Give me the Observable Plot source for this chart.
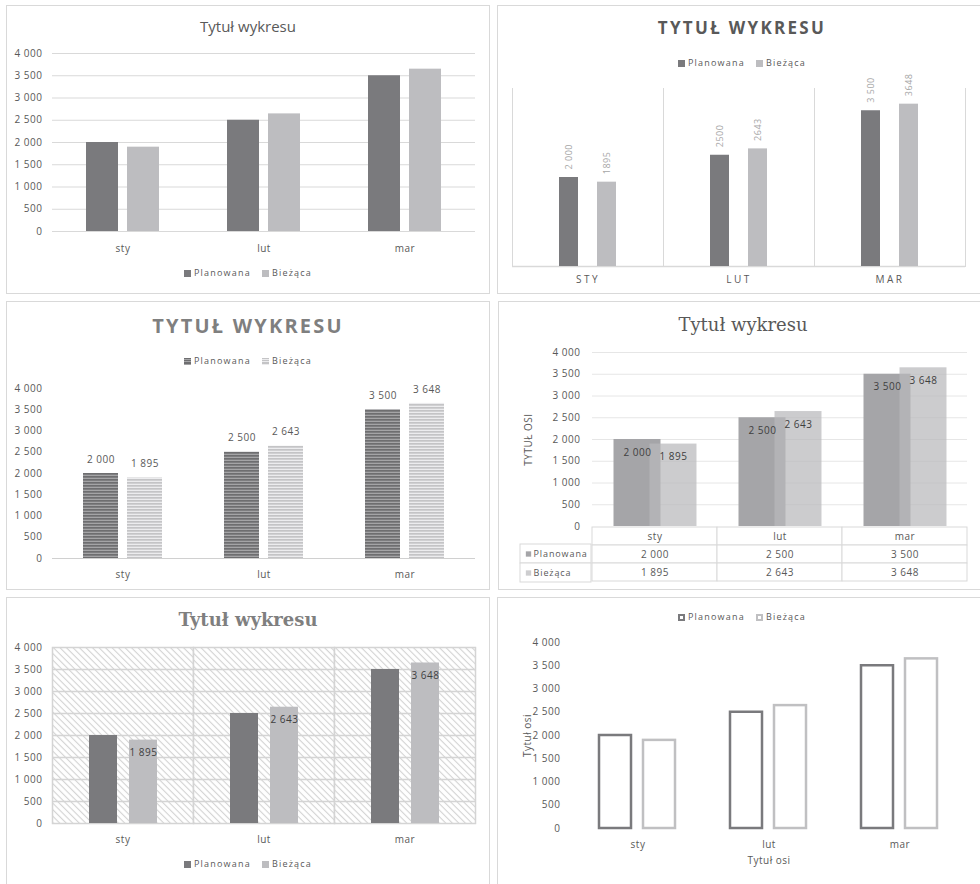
<!DOCTYPE html>
<html><head><meta charset="utf-8">
<script src="https://cdn.jsdelivr.net/npm/d3@7"></script>
<script src="https://cdn.jsdelivr.net/npm/@observablehq/plot@0.6"></script>
<style>
html,body{margin:0;padding:0;background:#fff;overflow:hidden;width:980px;height:884px}
body{position:relative;font-family:"Open Sans",sans-serif;color:#595959}
.panel{position:absolute;border:1px solid #d9d9d9;box-sizing:border-box;background:#fff;overflow:hidden}
.panel svg{position:absolute;left:0;top:0;overflow:visible}
.t{position:absolute;left:0;right:0;text-align:center;white-space:nowrap}
.lg{position:absolute;left:0;right:0;display:flex;justify-content:center;align-items:center;font-size:9px;letter-spacing:1.2px;color:#595959;gap:11px;line-height:12px}
.lg .i{display:flex;align-items:center;gap:3px}
.sw{display:inline-block;width:7px;height:7px;box-sizing:border-box}
#p2 [aria-label^="fx-axis"] text{letter-spacing:2.5px}
</style></head>
<body>
<svg width="0" height="0" style="position:absolute">
<defs>
<pattern id="stripeDark" width="6" height="3" patternUnits="userSpaceOnUse">
<rect width="6" height="3" fill="#a4a4a6"/><rect width="6" height="1.7" fill="#6e6e70"/>
</pattern>
<pattern id="stripeLight" width="6" height="3" patternUnits="userSpaceOnUse">
<rect width="6" height="3" fill="#ececee"/><rect width="6" height="1.7" fill="#c4c4c6"/>
</pattern>
<pattern id="hatch" width="4.6" height="4.6" patternUnits="userSpaceOnUse" patternTransform="rotate(-45)">
<rect width="4.6" height="4.6" fill="#ffffff"/><line x1="2.3" y1="0" x2="2.3" y2="4.6" stroke="#d2d2d2" stroke-width="1.1"/>
</pattern>
</defs>
</svg>
<div class="panel" id="p1" style="left:6px;top:5px;width:484px;height:289px"></div>
<div class="panel" id="p2" style="left:497px;top:5px;width:490px;height:289px"></div>
<div class="panel" id="p3" style="left:6px;top:301px;width:484px;height:289px"></div>
<div class="panel" id="p4" style="left:498px;top:301px;width:490px;height:289px"></div>
<div class="panel" id="p5" style="left:6px;top:597px;width:484px;height:290px"></div>
<div class="panel" id="p6" style="left:497px;top:597px;width:490px;height:290px"></div>
<script>
// ---- data ----
const months = ["sty", "lut", "mar"];
const monthsUpper = ["STY", "LUT", "MAR"];
const series = ["Planowana", "Bieżąca"];
const planowana = [2000, 2500, 3500];
const biezaca = [1895, 2643, 3648];
const yTicks = [0, 500, 1000, 1500, 2000, 2500, 3000, 3500, 4000];
const yDomain = [0, 4000];
const rotLabelsPlan = ["2 000", "2500", "3 500"];
const rotLabelsBiez = ["1895", "2643", "3648"];
const titleNormal = "Tytuł wykresu";
const titleUpper = "TYTUŁ WYKRESU";
const axisTitleUpper = "TYTUŁ OSI";
const axisTitle = "Tytuł osi";

// ---- helpers ----
const fmt = d => d3.format(",")(d).replace(/,/g, " ");
const data = months.flatMap((m, i) => [
  {month: m, series: series[0], value: planowana[i], rot: rotLabelsPlan[i]},
  {month: m, series: series[1], value: biezaca[i], rot: rotLabelsBiez[i]}
]);
const planData = data.filter(d => d.series === series[0]);
const biezData = data.filter(d => d.series === series[1]);

const DARK = "#7a7a7d", LIGHT = "#bdbdc0";
const SANS = '"Open Sans", sans-serif';
const baseStyle = {fontFamily: SANS, fontSize: "10px", color: "#595959", background: "transparent", overflow: "visible", letterSpacing: "0.5px"};

function addTitle(id, text, y, o) {
  const el = document.createElement("div");
  el.className = "t";
  el.textContent = text;
  const lh = o.size * 1.3;
  Object.assign(el.style, {top: (y - lh / 2) + "px", lineHeight: lh + "px", fontSize: o.size + "px",
    fontFamily: o.family || SANS, fontWeight: o.weight || "normal", color: o.color || "#595959",
    letterSpacing: (o.spacing || 0) + "px"});
  document.getElementById(id).appendChild(el);
}
function addLegend(id, y, swatches) {
  const el = document.createElement("div");
  el.className = "lg";
  el.style.top = (y - 6) + "px";
  series.forEach((s, i) => {
    const it = document.createElement("span"); it.className = "i";
    const sw = document.createElement("span"); sw.className = "sw";
    Object.assign(sw.style, swatches[i]);
    const tx = document.createElement("span"); tx.textContent = s;
    it.appendChild(sw); it.appendChild(tx); el.appendChild(it);
  });
  document.getElementById(id).appendChild(el);
}
function put(id, svg, left, top) {
  svg.style.left = (left || 0) + "px";
  svg.style.top = (top || 0) + "px";
  document.getElementById(id).appendChild(svg);
}

// ---- Panel 1 ----
addTitle("p1", titleNormal, 21, {size: 15});
put("p1", Plot.plot({
  width: 482, height: 287, marginLeft: 45, marginRight: 14, marginTop: 47, marginBottom: 62,
  style: baseStyle,
  fx: {domain: months, padding: 0, axis: "bottom", tickSize: 0, tickPadding: 13, label: null},
  x: {domain: series, axis: null, paddingInner: 9 / 41, paddingOuter: 0.829},
  y: {domain: yDomain, ticks: yTicks, tickFormat: fmt, tickSize: 0, tickPadding: 10, label: null},
  color: {domain: series, range: [DARK, LIGHT]},
  marks: [
    Plot.ruleY(yTicks, {stroke: "#d9d9d9"}),
    Plot.barY(data, {fx: "month", x: "series", y: "value", fill: "series"})
  ]
}));
addLegend("p1", 267, [{background: DARK}, {background: LIGHT}]);

// ---- Panel 2 ----
addTitle("p2", titleUpper, 22, {size: 17, weight: "bold", spacing: 2.3});
addLegend("p2", 57, [{background: DARK}, {background: LIGHT}]);
put("p2", Plot.plot({
  width: 482, height: 287, marginLeft: 13, marginRight: 14, marginTop: 82, marginBottom: 27,
  style: baseStyle,
  fx: {domain: months, padding: 0, axis: "bottom", tickSize: 0, tickPadding: 9, label: null,
       tickFormat: d => monthsUpper[months.indexOf(d)]},
  x: {domain: series, axis: null, paddingInner: 19 / 39, paddingOuter: 1.188},
  y: {domain: yDomain, axis: null},
  color: {domain: series, range: [DARK, LIGHT]},
  marks: [
    Plot.frame({anchor: "left", stroke: "#d9d9d9"}),
    Plot.frame({anchor: "right", stroke: "#d9d9d9"}),
    Plot.ruleY([0], {stroke: "#d9d9d9", strokeWidth: 1.5}),
    Plot.barY(data, {fx: "month", x: "series", y: "value", fill: "series"}),
    Plot.text(data, {fx: "month", x: "series", y: "value", text: "rot", rotate: -90, textAnchor: "start",
      dy: -8, fill: "#a6a6a6", fontSize: 9})
  ]
}));

// ---- Panel 3 ----
addTitle("p3", titleUpper, 24, {size: 20, weight: "bold", spacing: 2.2, color: "#7f7f7f"});
addLegend("p3", 59, [
  {background: "repeating-linear-gradient(#6e6e70 0 1.2px,#a4a4a6 1.2px 2.2px)"},
  {background: "repeating-linear-gradient(#c4c4c6 0 1.2px,#ececee 1.2px 2.2px)"}]);
put("p3", Plot.plot({
  width: 482, height: 287, marginLeft: 45, marginRight: 14, marginTop: 86, marginBottom: 31,
  style: baseStyle,
  fx: {domain: months, padding: 0, axis: "bottom", tickSize: 0, tickPadding: 12, label: null},
  x: {domain: series, axis: null, paddingInner: 0.2, paddingOuter: 0.667},
  y: {domain: yDomain, ticks: yTicks, tickFormat: fmt, tickSize: 0, tickPadding: 10, label: null},
  marks: [
    Plot.ruleY([0], {stroke: "#d0d0d0"}),
    Plot.barY(planData, {fx: "month", x: "series", y: "value", fill: "url(#stripeDark)"}),
    Plot.barY(biezData, {fx: "month", x: "series", y: "value", fill: "url(#stripeLight)"}),
    Plot.text(data, {fx: "month", x: "series", y: "value", text: d => fmt(d.value), dy: -14, fill: "#595959", fontSize: 10})
  ]
}));

// ---- Panel 4 ----
const P4DARK = "#a5a5a8", P4LIGHT = "#b9b9bb";
addTitle("p4", titleNormal, 23, {size: 18, family: '"DejaVu Serif", serif'});
put("p4", Plot.plot({
  width: 482, height: 287, marginLeft: 92, marginRight: 14, marginTop: 50, marginBottom: 63,
  style: baseStyle,
  fx: {domain: months, padding: 0, axis: null},
  x: {domain: series, axis: null, paddingInner: 0, paddingOuter: 0.693},
  y: {domain: yDomain, ticks: yTicks, tickFormat: fmt, tickSize: 0, tickPadding: 12,
      label: axisTitleUpper, labelAnchor: "center", labelOffset: 68, labelArrow: "none"},
  marks: [
    Plot.ruleY(yTicks.slice(1), {stroke: "#e6e6e6"}),
    Plot.barY(planData, {fx: "month", x: "series", y: "value", fill: P4DARK, insetLeft: -5.5, insetRight: -5.5}),
    Plot.barY(biezData, {fx: "month", x: "series", y: "value", fill: P4LIGHT, fillOpacity: 0.72, insetLeft: -5.5, insetRight: -5.5}),
    Plot.text(data, {fx: "month", x: "series", y: "value", text: d => fmt(d.value), dy: 13, fill: "#404040", fontSize: 10})
  ]
}));
const tableRows = ["head", ...series];
const tableCells = months.flatMap((m, i) => [
  {month: m, row: "head", text: m},
  {month: m, row: series[0], text: fmt(planowana[i])},
  {month: m, row: series[1], text: fmt(biezaca[i])}
]);
put("p4", Plot.plot({
  width: 482, height: 58, marginLeft: 92, marginRight: 14, marginTop: 1, marginBottom: 1,
  style: baseStyle,
  x: {domain: months, padding: 0, axis: null},
  y: {domain: tableRows, padding: 0, axis: null},
  marks: [
    Plot.cell(tableCells, {x: "month", y: "row", fill: "white", stroke: "#d9d9d9"}),
    Plot.text(tableCells, {x: "month", y: "row", text: "text", fill: "#595959"})
  ]
}), 0, 223);
put("p4", Plot.plot({
  width: 73, height: 40, marginLeft: 1, marginRight: 1, marginTop: 1, marginBottom: 1,
  style: {...baseStyle, letterSpacing: "0.9px"},
  x: {axis: null},
  y: {domain: series, padding: 0, axis: null},
  color: {domain: series, range: [P4DARK, "#cdcdcf"]},
  marks: [
    Plot.cell(series, {y: d => d, fill: "white", stroke: "#d9d9d9"}),
    Plot.dot(series, {y: d => d, frameAnchor: "left", dx: 8, symbol: "square", r: 3, fill: d => d}),
    Plot.text(series, {y: d => d, text: d => d, frameAnchor: "left", dx: 13, textAnchor: "start", fill: "#595959", fontSize: 9})
  ]
}), 20, 241);

// ---- Panel 5 ----
addTitle("p5", titleNormal, 22, {size: 18, weight: "bold", family: '"DejaVu Serif", serif', color: "#7f7f7f"});
put("p5", Plot.plot({
  width: 482, height: 287, marginLeft: 45, marginRight: 14, marginTop: 49, marginBottom: 62,
  style: baseStyle,
  fx: {domain: months, padding: 0, axis: "bottom", tickSize: 0, tickPadding: 12, label: null},
  x: {domain: series, axis: null, paddingInner: 0.3, paddingOuter: 0.9125},
  y: {domain: yDomain, ticks: yTicks, tickFormat: fmt, tickSize: 0, tickPadding: 10, label: null},
  color: {domain: series, range: [DARK, LIGHT]},
  marks: [
    Plot.frame({fill: "url(#hatch)", stroke: "#d4d4d4", strokeWidth: 1.5}),
    Plot.ruleY(yTicks.slice(1, -1), {stroke: "#d4d4d4", strokeWidth: 1.5}),
    Plot.barY(data, {fx: "month", x: "series", y: "value", fill: "series"}),
    Plot.text(biezData, {fx: "month", x: "series", y: "value", text: d => fmt(d.value), dy: 13, fill: "#404040", fontSize: 10})
  ]
}));
addLegend("p5", 266, [{background: DARK}, {background: LIGHT}]);

// ---- Panel 6 ----
addLegend("p6", 19, [{border: "2px solid " + DARK}, {border: "2px solid #c0c0c2"}]);
put("p6", Plot.plot({
  width: 482, height: 287, marginLeft: 73, marginRight: 14, marginTop: 44, marginBottom: 57,
  style: baseStyle,
  fx: {domain: months, padding: 0, axis: "bottom", tickSize: 0, tickPadding: 12,
       label: axisTitle, labelAnchor: "center", labelOffset: 35, labelArrow: "none"},
  x: {domain: series, axis: null, paddingInner: 12 / 45, paddingOuter: 0.597},
  y: {domain: yDomain, ticks: yTicks, tickFormat: fmt, tickSize: 0, tickPadding: 12,
      label: axisTitle, labelAnchor: "center", labelOffset: 49, labelArrow: "none"},
  color: {domain: series, range: [DARK, "#c0c0c2"]},
  marks: [
    Plot.barY(data, {fx: "month", x: "series", y: "value", fill: "white", stroke: "series", strokeWidth: 2.5})
  ]
}));
</script>
</body></html>
